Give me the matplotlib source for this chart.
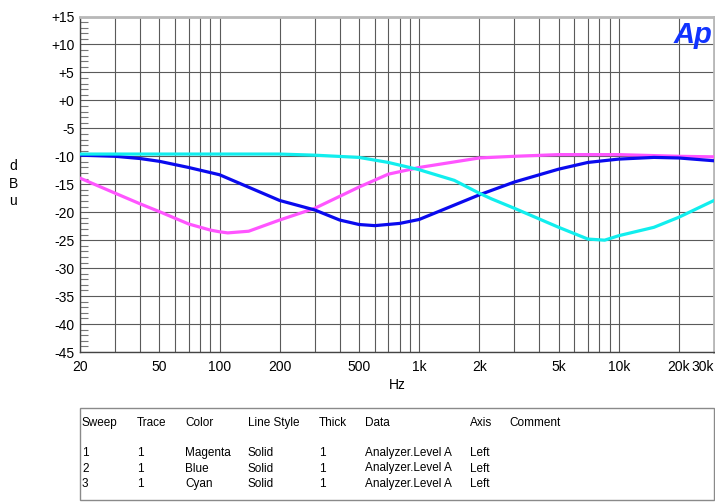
import matplotlib.pyplot as plt
from matplotlib.ticker import FixedLocator, NullFormatter

plt.rcParams['font.family'] = ['Liberation Sans', 'DejaVu Sans']

# Sweep 1 - Magenta
mag_hz = [20, 30, 40, 50, 70, 90, 100, 110, 140, 200, 300, 500, 700, 1000, 2000, 3000, 5000, 10000, 20000, 30000]
mag_db = [-13.9, -16.6, -18.5, -19.9, -22.1, -23.2, -23.5, -23.7, -23.4, -21.4, -19.3, -15.5, -13.2, -12.0, -10.3, -10.0, -9.7, -9.7, -10.0, -10.1]

# Sweep 2 - Blue
blue_hz = [20, 30, 40, 50, 70, 100, 200, 300, 400, 500, 600, 800, 1000, 2000, 3000, 5000, 7000, 10000, 15000, 20000, 30000]
blue_db = [-9.8, -10.0, -10.4, -10.9, -12.0, -13.3, -17.9, -19.6, -21.4, -22.2, -22.4, -22.0, -21.3, -16.9, -14.6, -12.3, -11.1, -10.5, -10.2, -10.3, -10.8]

# Sweep 3 - Cyan
cyan_hz = [20, 100, 200, 300, 500, 700, 1000, 1500, 2000, 2300, 3000, 5000, 7000, 8500, 10000, 15000, 20000, 30000]
cyan_db = [-9.6, -9.6, -9.6, -9.8, -10.2, -11.1, -12.4, -14.3, -16.6, -17.6, -19.3, -22.7, -24.8, -25.0, -24.2, -22.7, -20.9, -17.9]

x_ticks = [20, 50, 100, 200, 500, 1000, 2000, 5000, 10000, 20000, 30000]
x_labels = ['20', '50', '100', '200', '500', '1k', '2k', '5k', '10k', '20k', '30k']
y_ticks = list(range(-45, 16, 5))
y_labels = ['+%d' % v if v >= 0 else '%d' % v for v in y_ticks]

table_cols = ['Sweep', 'Trace', 'Color', 'Line Style', 'Thick', 'Data', 'Axis', 'Comment']
table_rows = [
    ['1', '1', 'Magenta', 'Solid', '1', 'Analyzer.Level A', 'Left', ''],
    ['2', '1', 'Blue', 'Solid', '1', 'Analyzer.Level A', 'Left', ''],
    ['3', '1', 'Cyan', 'Solid', '1', 'Analyzer.Level A', 'Left', ''],
]

fig = plt.figure(figsize=(7.15, 5.04), dpi=100)
ax = fig.add_axes([80 / 715, 1 - 352 / 504, 634 / 715, 335.5 / 504])

ax.set_xscale('log')
ax.set_xlim(20, 30000)
ax.set_ylim(-45, 15)

# grid on every 1-9 multiple of each decade
grid_x = [m * 10 ** d for d in range(1, 5) for m in range(1, 10) if 20 <= m * 10 ** d <= 30000]
for gx in grid_x:
    ax.axvline(gx, color='#5a5a5a', lw=0.8, zorder=1)
for gy in y_ticks:
    ax.axhline(gy, color='#5a5a5a', lw=0.8, zorder=1)

ax.plot(mag_hz, mag_db, color='#ff55ff', lw=2.3, zorder=3)
ax.plot(blue_hz, blue_db, color='#0a0aee', lw=2.3, zorder=3)
ax.plot(cyan_hz, cyan_db, color='#11eeee', lw=2.3, zorder=3)

ax.xaxis.set_major_locator(FixedLocator(x_ticks))
ax.xaxis.set_minor_locator(FixedLocator([]))
ax.xaxis.set_minor_formatter(NullFormatter())
ax.set_xticklabels(x_labels)
ax.get_xticklabels()[-1].set_horizontalalignment('right')
ax.set_yticks(y_ticks)
ax.set_yticklabels(y_labels)
ax.yaxis.set_minor_locator(FixedLocator([v for v in range(-45, 16) if v % 5 != 0]))

ax.tick_params(axis='x', which='both', length=0, labelsize=10, pad=6)
ax.tick_params(axis='y', which='major', length=0, labelsize=10, pad=4)
ax.tick_params(axis='y', which='minor', direction='in', length=6, color='#777777', width=0.8)

for side in ['left', 'bottom']:
    ax.spines[side].set_color('#444444')
    ax.spines[side].set_linewidth(1.0)
for side in ['top', 'right']:
    ax.spines[side].set_color('#b8b8b8')
    ax.spines[side].set_linewidth(2.0)

fig.text(397 / 715, 1 - 385 / 504, 'Hz', ha='center', va='center', fontsize=10)
for i, ch in enumerate('dBu'):
    fig.text(13 / 715, 1 - (166 + i * 17.5) / 504, ch, ha='center', va='center', fontsize=10)

fig.text(712 / 715, 1 - 35 / 504, 'Ap', ha='right', va='center', fontsize=21,
         fontweight='bold', fontstyle='italic', color='#1133ff')

# trace table below the chart
box = plt.Rectangle((80 / 715, 1 - 500 / 504), 634 / 715, 92 / 504, transform=fig.transFigure,
                    fill=False, edgecolor='#8a8a8a', lw=1.0)
fig.patches.append(box)
col_x = [82, 137, 185, 248, 319, 365, 470, 509]
for cx, name in zip(col_x, table_cols):
    fig.text(cx / 715, 1 - 423 / 504, name, ha='left', va='center', fontsize=8.5,
             family=['Liberation Sans Narrow', 'Liberation Sans'])
for r, row in enumerate(table_rows):
    for cx, val in zip(col_x, row):
        fig.text(cx / 715, 1 - (453 + r * 15.5) / 504, val, ha='left', va='center', fontsize=8.5,
                 family=['Liberation Sans Narrow', 'Liberation Sans'])

fig.savefig('out.png', dpi=100)
